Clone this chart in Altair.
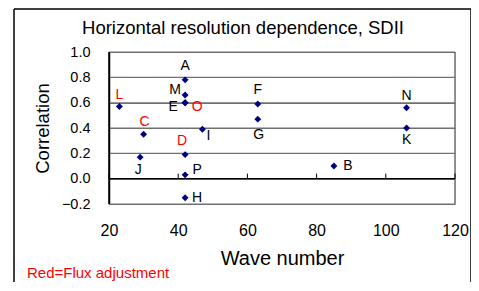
import altair as alt
import pandas as pd

labels = ["A", "B", "C", "D", "E", "F", "G", "H", "I", "J", "K", "L", "M", "N", "O", "P"]
wave = [42, 85, 30, 42, 42, 63, 63, 42, 47, 29, 106, 23, 42, 106, 42, 42]
corr = [0.78, 0.10, 0.35, 0.19, 0.60, 0.59, 0.47, -0.15, 0.39, 0.17, 0.40, 0.57, 0.66, 0.56, 0.60, 0.03]
flux = [False, False, True, True, False, False, False, False, False, False, False, True, False, False, True, False]

x_ticks = [20, 40, 60, 80, 100, 120]
y_ticks = [-0.2, 0.0, 0.2, 0.4, 0.6, 0.8, 1.0]

df = pd.DataFrame({"label": labels, "wave": wave, "corr": corr, "flux": flux})
xt_df = pd.DataFrame({"tick": x_ticks})
yt_df = pd.DataFrame({"ytick": y_ticks})

# label placement (pixel offsets from the marker)
offsets = {
    "A": (0, -14), "B": (14, 0), "C": (1, -12), "D": (-3, -14),
    "E": (-12, 4), "F": (0, -14), "G": (1, 16), "H": (12, 0),
    "I": (6, 7), "J": (-2, 13), "K": (0, 12), "L": (0, -11),
    "M": (-10, -5), "N": (0, -12), "O": (12, 4), "P": (12, -5),
}

FONT = "Liberation Sans"
W, H = 346, 152

xscale = alt.Scale(domain=[20, 120], nice=False)
yscale = alt.Scale(domain=[-0.2, 1.0], nice=False, zero=False)

x_axis = alt.Axis(values=x_ticks, title="Wave number", titleFontSize=20, titleFont=FONT,
                  titleFontWeight="normal", titleColor="black", titlePadding=10,
                  labelFontSize=16, labelFont=FONT, labelColor="black", labelPadding=18,
                  labelOverlap=False, labelFlush=False,
                  ticks=False, domain=False, grid=False)
y_axis = alt.Axis(values=y_ticks, format=".1f", title="Correlation", titleFontSize=18.5,
                  titleFont=FONT, titleFontWeight="normal", titleColor="black",
                  titlePadding=9, labelFontSize=14.5, labelFont=FONT, labelColor="black",
                  labelPadding=19, labelOverlap=False, labelFlush=False,
                  ticks=False, domainColor="black", domainWidth=1.5,
                  grid=True, gridColor="#707070", gridWidth=1)

x_enc = alt.X("wave:Q", scale=xscale, axis=x_axis)
y_enc = alt.Y("corr:Q", scale=yscale, axis=y_axis)

base = alt.Chart(df)
single = alt.Chart(alt.Data(values=[{}]))

# horizontal gridlines (filled thin ticks spanning the plot width)
grid = alt.Chart(yt_df).mark_tick(
    orient="horizontal", color="#707070", thickness=1, size=W, opacity=1
).encode(
    x=alt.value(W / 2),
    y=alt.Y("ytick:Q", scale=yscale, axis=y_axis),
)

# plot-area left (black) and right (gray) edges
edges = alt.Chart(pd.DataFrame({"edge": [20, 120], "col": ["black", "#707070"]})).mark_tick(
    orient="vertical", thickness=1.5, size=H, opacity=1
).encode(
    x=alt.X("edge:Q", scale=xscale, axis=x_axis),
    y=alt.value(H / 2),
    color=alt.Color("col:N", scale=None),
)

points = base.mark_point(shape="diamond", filled=True, size=48, color="#000080", opacity=1).encode(
    x=x_enc, y=y_enc
)

# horizontal axis line crossing at 0, with upward tick marks
zero_line = alt.Chart(pd.DataFrame({"z": [0.0]})).mark_tick(
    orient="horizontal", color="black", thickness=1.3, size=W, opacity=1
).encode(
    x=alt.value(W / 2),
    y=alt.Y("z:Q", scale=yscale, axis=y_axis),
)
zero_ticks = alt.Chart(xt_df).transform_calculate(z="0", t="0.04").mark_rule(
    color="black", strokeWidth=1
).encode(
    x=alt.X("tick:Q", scale=xscale, axis=x_axis),
    y=alt.Y("z:Q", scale=yscale, axis=y_axis),
    y2="t:Q",
)

text_layers = []
for lab, (dx, dy) in offsets.items():
    text_layers.append(
        base.transform_filter(alt.datum.label == lab).mark_text(
            dx=dx, dy=dy, fontSize=14, font=FONT, align="center", baseline="middle"
        ).encode(
            x=x_enc,
            y=y_enc,
            text="label:N",
            color=alt.condition(alt.datum.flux, alt.value("#FF0000"), alt.value("black")),
        )
    )

# outer chart-area frame
frame_top = single.mark_rule(color="black", strokeWidth=1.5).encode(
    x=alt.value(-95), x2=alt.value(362), y=alt.value(-43)
)
frame_left = single.mark_rule(color="black", strokeWidth=1.5).encode(
    x=alt.value(-95), y=alt.value(-43), y2=alt.value(400)
)
frame_right = single.mark_rule(color="black", strokeWidth=1.5).encode(
    x=alt.value(362), y=alt.value(-43), y2=alt.value(400)
)

title = single.mark_text(fontSize=18.5, font=FONT, align="center", baseline="alphabetic", color="black").encode(
    x=alt.value(134), y=alt.value(-18), text=alt.value("Horizontal resolution dependence, SDII")
)

note = single.mark_text(fontSize=15, font=FONT, align="left", baseline="alphabetic", color="#FF0000").encode(
    x=alt.value(-82), y=alt.value(226), text=alt.value("Red=Flux adjustment")
)

chart = alt.layer(
    frame_top, frame_left, frame_right, grid, edges, zero_line, zero_ticks,
    points, *text_layers, title, note
).properties(
    width=W, height=H,
    padding={"left": 101, "top": 44, "right": 16, "bottom": 78},
    autosize=alt.AutoSizeParams(type="none"),
).configure_view(stroke="#707070", strokeWidth=1).configure(background="white")

chart.save("out.html", embed_options={"renderer": "svg", "actions": False})
